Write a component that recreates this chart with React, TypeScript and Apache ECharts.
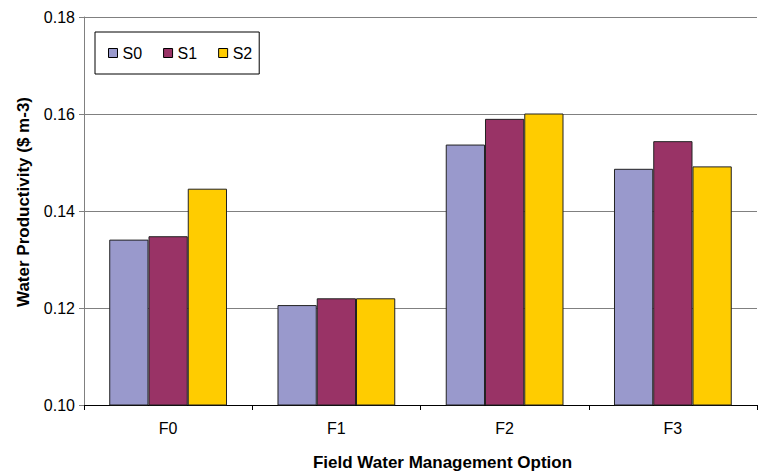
import React, { useEffect, useRef } from "react";
import * as echarts from "echarts";

const categories = ["F0", "F1", "F2", "F3"];
const seriesNames = ["S0", "S1", "S2"];
const s0 = [0.1341, 0.1206, 0.1537, 0.1487];
const s1 = [0.1348, 0.122, 0.159, 0.1544];
const s2 = [0.1446, 0.122, 0.1601, 0.1492];
const yTicks = [0.1, 0.12, 0.14, 0.16, 0.18];

const colors = ["#9999CC", "#993366", "#FFCC00"];
const FONT = "'Liberation Sans', Arial, sans-serif";

export default function App() {
  const ref = useRef<HTMLDivElement>(null);
  useEffect(() => {
    if (!ref.current) return;
    const chart = echarts.init(ref.current, null, { renderer: "svg" });
    const data = [s0, s1, s2];
    chart.setOption({
      animation: false,
      backgroundColor: "#ffffff",
      textStyle: { fontFamily: FONT },
      grid: { left: 84, right: 10, top: 17, bottom: 67, containLabel: false },
      legend: {
        left: 95,
        top: 32,
        orient: "horizontal",
        data: seriesNames,
        icon: "rect",
        itemWidth: 9,
        itemHeight: 9,
        itemGap: 21,
        padding: [13, 7, 13, 13],
        borderColor: "#000000",
        borderWidth: 1,
        textStyle: { fontSize: 16, color: "#000", fontFamily: FONT },
        itemStyle: { borderColor: "#000", borderWidth: 1 },
      },
      xAxis: {
        type: "category",
        data: categories,
        name: "Field Water Management Option",
        nameLocation: "middle",
        nameGap: 49,
        nameTextStyle: { fontSize: 17, fontWeight: "bold", color: "#000", fontFamily: FONT, padding: [0, 0, 0, 44] },
        axisLine: { lineStyle: { color: "#000", width: 1 } },
        axisTick: { show: true, length: 5, inside: false, alignWithLabel: false, lineStyle: { color: "#000" } },
        axisLabel: { fontSize: 16, color: "#000", margin: 15, fontFamily: FONT },
        splitLine: { show: false },
      },
      yAxis: {
        type: "value",
        min: yTicks[0],
        max: yTicks[yTicks.length - 1],
        interval: 0.02,
        name: "Water Productivity ($ m-3)",
        nameLocation: "middle",
        nameGap: 52,
        nameTextStyle: { fontSize: 17, fontWeight: "bold", color: "#000", fontFamily: FONT, padding: [0, 0, 0, 18] },
        axisLine: { show: true, lineStyle: { color: "#808080", width: 1 } },
        axisTick: { show: true, length: 5, lineStyle: { color: "#808080" } },
        axisLabel: {
          fontSize: 16,
          color: "#000",
          margin: 9,
          fontFamily: FONT,
          formatter: (v: number) => v.toFixed(2),
        },
        splitLine: { show: true, lineStyle: { color: "#808080", width: 1 } },
      },
      series: seriesNames.map((n, i) => ({
        name: n,
        type: "bar",
        data: data[i],
        barGap: "0%",
        barCategoryGap: "30%",
        itemStyle: { color: colors[i], borderColor: "#222", borderWidth: 1 },
      })),
    });
    return () => chart.dispose();
  }, []);
  return <div ref={ref} style={{ width: 767, height: 476, position: "absolute", left: 0, top: 0 }} />;
}
